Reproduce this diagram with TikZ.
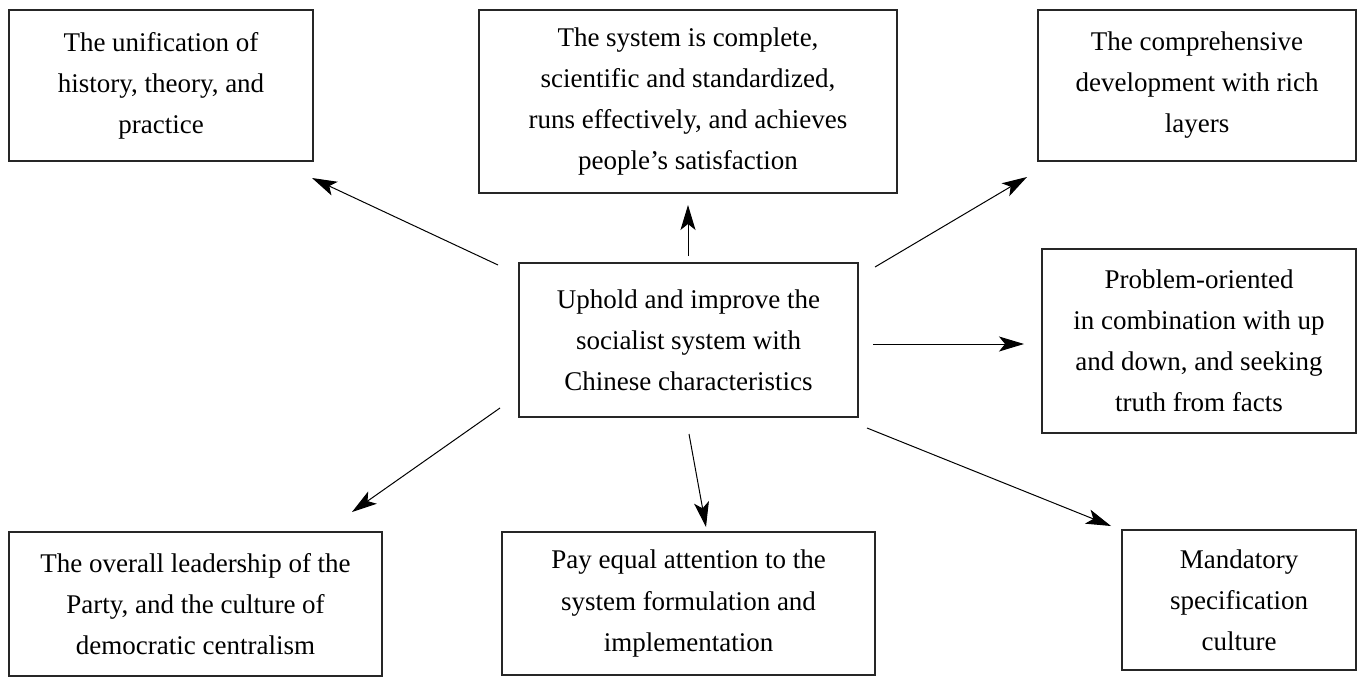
\documentclass[tikz,border=0pt]{standalone}
\usepackage{fontspec}
\setmainfont{Liberation Serif}
\usetikzlibrary{arrows.meta}
\begin{document}
\begin{tikzpicture}[x=1pt,y=-1pt,
  box/.style={draw=black!85, line width=1.3pt, inner sep=0pt, align=center,
    font=\fontsize{27}{41}\selectfont},
  conn/.style={line width=1pt, -{Stealth[length=25pt,width=15pt,inset=6pt]}}]
\useasboundingbox (0,0) rectangle (1357,677);
\node[box, minimum width=304, minimum height=151] (tl) at (161,85.5)
  {The unification of\\history, theory, and\\practice};
\node[box, minimum width=418, minimum height=183] (tc) at (688,101.5)
  {The system is complete,\\scientific and standardized,\\runs effectively, and achieves\\people’s satisfaction};
\node[box, minimum width=318, minimum height=151] (tr) at (1197,85.5)
  {The comprehensive\\development with rich\\layers};
\node[box, minimum width=339, minimum height=154] (c) at (688.5,340)
  {Uphold and improve the\\socialist system with\\Chinese characteristics};
\node[box, minimum width=314, minimum height=184] (rm) at (1199,341)
  {Problem-oriented\\in combination with up\\and down, and seeking\\truth from facts};
\node[box, minimum width=373, minimum height=144] (bl) at (195.5,604)
  {The overall leadership of the\\Party, and the culture of\\democratic centralism};
\node[box, minimum width=373, minimum height=143] (bc) at (688.5,603.5)
  {Pay equal attention to the\\system formulation and\\implementation};
\node[box, minimum width=234, minimum height=140] (br) at (1239,600)
  {Mandatory\\specification\\culture};
% connector end points
\coordinate (s1) at (498,265); \coordinate (e1) at (312,178);
\coordinate (s2) at (688,256); \coordinate (e2) at (688,205);
\coordinate (s3) at (875,267); \coordinate (e3) at (1027,177);
\coordinate (s4) at (873,344); \coordinate (e4) at (1024,344);
\coordinate (s5) at (867,428); \coordinate (e5) at (1111,526);
\coordinate (s6) at (689,434); \coordinate (e6) at (706,527);
\coordinate (s7) at (500,408); \coordinate (e7) at (352,512);
\draw[conn] (s1) -- (e1);
\draw[conn] (s2) -- (e2);
\draw[conn] (s3) -- (e3);
\draw[conn] (s4) -- (e4);
\draw[conn] (s5) -- (e5);
\draw[conn] (s6) -- (e6);
\draw[conn] (s7) -- (e7);
\end{tikzpicture}
\end{document}
